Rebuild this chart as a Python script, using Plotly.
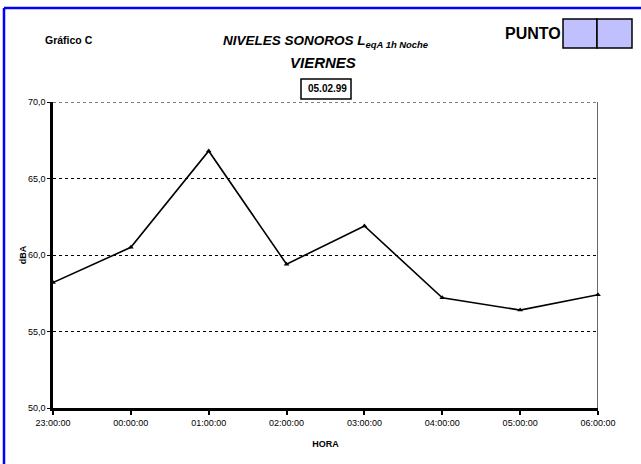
import plotly.graph_objects as go

# Hourly night-time equivalent sound levels (dBA)
horas = ["23:00:00", "00:00:00", "01:00:00", "02:00:00",
         "03:00:00", "04:00:00", "05:00:00", "06:00:00"]
niveles = [58.2, 60.5, 66.8, 59.4, 61.9, 57.2, 56.4, 57.4]
y_ticks = [50, 55, 60, 65, 70]
y_labels = ["50,0", "55,0", "60,0", "65,0", "70,0"]

FONT = "Liberation Sans, Arial, sans-serif"
W, H = 641, 464
L, R, T, B = 53, 43, 102, 56

x_idx = list(range(len(horas)))

fig = go.Figure()
fig.add_trace(go.Scatter(
    x=x_idx, y=niveles, mode="lines+markers",
    line=dict(color="black", width=1.6),
    marker=dict(symbol="triangle-up", size=5, color="black"),
    cliponaxis=False, showlegend=False,
))

fig.update_layout(
    width=W, height=H,
    margin=dict(l=L, r=R, t=T, b=B),
    paper_bgcolor="white", plot_bgcolor="white",
    font=dict(family=FONT, color="black", size=9),
    xaxis=dict(
        range=[0, len(horas) - 1], tickvals=x_idx, ticktext=horas,
        tickfont=dict(size=9, family=FONT), ticks="outside", ticklen=4,
        tickcolor="black", tickwidth=1.5,
        showline=True, linecolor="black", linewidth=2.5,
        showgrid=False, zeroline=False, fixedrange=True,
        title=dict(text="<b>HORA</b>", font=dict(size=9, family=FONT), standoff=15),
    ),
    yaxis=dict(
        range=[50, 70], tickvals=y_ticks, ticktext=y_labels,
        tickfont=dict(size=9, family=FONT), ticks="outside", ticklen=3,
        tickcolor="black",
        showline=True, linecolor="black", linewidth=2.5,
        showgrid=True, gridcolor="black", griddash="dot", gridwidth=1,
        zeroline=False, fixedrange=True,
        title=dict(text="<b>dBA</b>", font=dict(size=9, family=FONT), standoff=0),
    ),
)

# Top gridline at 70 and right-hand frame
fig.add_shape(type="line", xref="x", yref="y",
              x0=0, x1=len(horas) - 1, y0=70, y1=70,
              line=dict(color="black", width=1, dash="dot"))
fig.add_shape(type="line", xref="x", yref="y",
              x0=len(horas) - 1, x1=len(horas) - 1, y0=50, y1=70,
              line=dict(color="black", width=1.2))


def px(x):
    return (x - L) / (W - L - R)


def py(y):
    return (H - B - y) / (H - T - B)


# Blue page border (top and left)
fig.add_shape(type="line", xref="paper", yref="paper",
              x0=px(4), x1=px(W + 5), y0=py(8), y1=py(8),
              line=dict(color="#0000FF", width=2.5))
fig.add_shape(type="line", xref="paper", yref="paper",
              x0=px(4), x1=px(4), y0=py(H + 5), y1=py(8),
              line=dict(color="#0000FF", width=2.5))

# "PUNTO" boxes
for x0, x1 in [(563, 597), (597, 632)]:
    fig.add_shape(type="rect", xref="paper", yref="paper",
                  x0=px(x0), x1=px(x1), y0=py(48), y1=py(19),
                  fillcolor="#C0C0FF", line=dict(color="black", width=1.5))

# Date box
fig.add_shape(type="rect", xref="paper", yref="paper",
              x0=px(301), x1=px(351), y0=py(99), y1=py(79),
              fillcolor="white", line=dict(color="black", width=1.5))

annotations = [
    dict(x=px(69), y=py(40), text="<b>Gráfico C</b>", size=10.5),
    dict(x=px(325), y=py(41),
         text="<b><i>NIVELES SONOROS L<sub>eqA 1h Noche</sub></i></b>", size=13.5),
    dict(x=px(323), y=py(62), text="<b><i>VIERNES</i></b>", size=15),
    dict(x=px(327), y=py(89), text="<b>05.02.99</b>", size=10),
    dict(x=px(533), y=py(34), text="<b>PUNTO</b>", size=16),
]
for a in annotations:
    fig.add_annotation(x=a["x"], y=a["y"], xref="paper", yref="paper",
                       text=a["text"], showarrow=False,
                       font=dict(size=a["size"], family=FONT, color="black"),
                       xanchor="center", yanchor="middle")

fig.write_html("out.html")
